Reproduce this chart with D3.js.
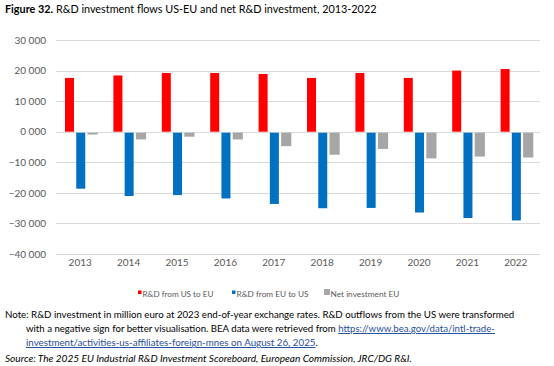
<!DOCTYPE html>
<html><head><meta charset="utf-8">
<script src="https://cdn.jsdelivr.net/npm/d3@7"></script>
<style>
body{margin:0;background:#fff;}
svg{display:block;font-family:Lato,"Open Sans",sans-serif;}
.nar{font-family:"Liberation Sans Narrow","Arial Narrow",Lato,sans-serif;}
</style></head><body>
<svg id="c" width="554" height="366"></svg>
<script>
const years = ["2013","2014","2015","2016","2017","2018","2019","2020","2021","2022"];
const usToEu = [17600,18400,19200,19200,18900,17600,19200,17600,20000,20500];
const euToUs = [-18300,-20700,-20400,-21500,-23300,-24700,-24600,-26100,-27900,-28700];
const netEu = [-600,-2200,-1300,-2200,-4400,-7200,-5300,-8400,-7800,-8100];
const seriesNames = ["R&D from US to EU","R&D from EU to US","Net investment EU"];
const seriesColors = ["#FF0000","#0070C0","#A6A6A6"];
const yTicks = [-40000,-30000,-20000,-10000,0,10000,20000,30000];

const svg = d3.select("#c");
const L=56,R=540,T=40,B=254;
const x = d3.scaleBand().domain(years).range([L,R]).paddingInner(0).paddingOuter(0);
const xi = d3.scaleBand().domain(seriesNames).range([9,40.5]).paddingInner(0.2);
const y = d3.scaleLinear().domain([-40000,30000]).range([B,T]);

const fmt = v => v===0 ? "0 000" : d3.format(",")(v).replace(/,/g," ");

// fit a text element's font size to a target width
function fit(sel, target){
  sel.style("font-size","10px");
  const w = sel.node().getComputedTextLength();
  sel.style("font-size",(10*target/w).toFixed(2)+"px");
}

// gridlines
svg.append("g").selectAll("line").data(yTicks).join("line")
  .attr("x1",L).attr("x2",R).attr("y1",d=>Math.round(y(d))+0.5).attr("y2",d=>Math.round(y(d))+0.5)
  .attr("stroke","#D9D9D9").attr("stroke-width",1);

// y axis labels
const yAxis = d3.axisLeft(y).tickValues(yTicks).tickFormat(fmt).tickSize(0).tickPadding(10);
const ga = svg.append("g").attr("transform",`translate(${L},0)`).call(yAxis);
ga.select(".domain").remove();
ga.selectAll("text").attr("fill","#595959").style("font-size","10px").style("font-family","Lato,sans-serif");

// x axis labels
const xAxis = d3.axisBottom(x).tickSize(0).tickPadding(5);
const gx = svg.append("g").attr("transform",`translate(0,${B})`).call(xAxis);
gx.select(".domain").remove();
gx.selectAll("text").attr("fill","#595959").style("font-size","10px").style("font-family","Lato,sans-serif");

// bars
const data = [usToEu, euToUs, netEu];
data.forEach((vals,si)=>{
  svg.append("g").selectAll("rect").data(vals.map((v,i)=>({v,yr:years[i]}))).join("rect")
    .attr("x",d=>x(d.yr)+xi(seriesNames[si]))
    .attr("width",xi.bandwidth() + (si===2?1.2:0))
    .attr("y",d=>d.v>=0?y(d.v):y(0)+1)
    .attr("height",d=>Math.abs(y(d.v)-y(0)))
    .attr("fill",seriesColors[si]);
});

// title
const title = svg.append("text").attr("x",5).attr("y",13).attr("fill","#000");
title.append("tspan").attr("font-weight","bold").text("Figure 32.");
title.append("tspan").text(" R&D investment flows US-EU and net R&D investment, 2013-2022");
fit(title, 372);

// legend
const legX = [137,231,324];
const lg = svg.append("g").selectAll("g").data(seriesNames).join("g")
  .attr("transform",(d,i)=>`translate(${legX[i]},293)`);
lg.append("rect").attr("x",(d,i)=>i===2?0:1).attr("y",(d,i)=>i===2?-4:-2.5).attr("width",(d,i)=>i===2?6:3.5).attr("height",(d,i)=>i===2?6:3.5)
  .attr("fill",(d,i)=>seriesColors[i]);
const legW = [71,72,69];
lg.append("text").attr("class","nar").attr("x",(d,i)=>i===2?6.5:5.5).attr("y",3.5).text(d=>d)
  .attr("fill","#595959").each(function(d,i){ fit(d3.select(this), legW[i]); });

// notes
const nt = svg.append("g").attr("fill","#000").attr("class","nar");
const l1 = nt.append("text").attr("x",5).attr("y",318).text("Note: R&D investment in million euro at 2023 end-of-year exchange rates. R&D outflows from the US were transformed");
fit(l1, 510);
const l2 = nt.append("text").attr("x",26).attr("y",332);
l2.append("tspan").text("with a negative sign for better visualisation. BEA data were retrieved from ");
l2.append("tspan").attr("fill","#1F4E9C").attr("text-decoration","underline").text("https://www.bea.gov/data/intl-trade-");
fit(l2, 469);
const l3 = nt.append("text").attr("x",26).attr("y",346);
l3.append("tspan").attr("fill","#1F4E9C").attr("text-decoration","underline").text("investment/activities-us-affiliates-foreign-mnes on August 26, 2025");
l3.append("tspan").text(".");
fit(l3, 292);
const l4 = nt.append("text").attr("x",5).attr("y",362).attr("font-style","italic").text("Source: The 2025 EU Industrial R&D Investment Scoreboard, European Commission, JRC/DG R&I.");
fit(l4, 407);
</script>
</body></html>
